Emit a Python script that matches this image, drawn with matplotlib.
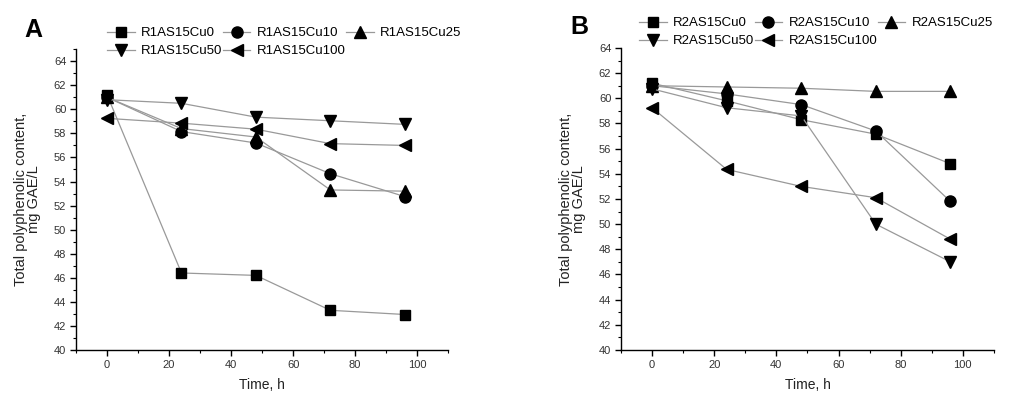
import matplotlib
matplotlib.use("Agg")
import matplotlib.pyplot as plt
from matplotlib.ticker import MultipleLocator

plt.rcParams['font.family'] = ['Liberation Sans', 'DejaVu Sans']

time_h = [0, 24, 48, 72, 96]

# Panel A (R1)
labels_a = ["R1AS15Cu0", "R1AS15Cu10", "R1AS15Cu25", "R1AS15Cu50", "R1AS15Cu100"]
r1_cu0 = [61.2, 46.4, 46.2, 43.3, 42.95]
r1_cu10 = [61.0, 58.15, 57.2, 54.65, 52.75]
r1_cu25 = [61.0, 58.4, 57.7, 53.3, 53.2]
r1_cu50 = [60.8, 60.5, 59.35, 59.05, 58.75]
r1_cu100 = [59.25, 58.85, 58.35, 57.15, 57.0]

# Panel B (R2)
labels_b = ["R2AS15Cu0", "R2AS15Cu10", "R2AS15Cu25", "R2AS15Cu50", "R2AS15Cu100"]
r2_cu0 = [61.2, 59.8, 58.3, 57.15, 54.8]
r2_cu10 = [61.0, 60.35, 59.5, 57.4, 51.8]
r2_cu25 = [61.0, 60.9, 60.8, 60.55, 60.55]
r2_cu50 = [60.75, 59.25, 58.6, 50.0, 47.0]
r2_cu100 = [59.25, 54.35, 53.0, 52.1, 48.8]

markers = ['s', 'o', '^', 'v', '<']
msizes = [7.5, 8, 9, 9, 9]

fig = plt.figure(figsize=(10.14, 3.99), dpi=100)
ax_a = fig.add_axes([0.075, 0.1228, 0.367, 0.754])
ax_b = fig.add_axes([0.6124, 0.1228, 0.3678, 0.757])


def draw(ax, series, labels, ylim):
    handles = []
    for vals, lab, m, ms in zip(series, labels, markers, msizes):
        h, = ax.plot(time_h, vals, color='#999999', lw=0.9, marker=m,
                     markersize=ms, markerfacecolor='black',
                     markeredgecolor='black', label=lab)
        handles.append(h)
    ax.set_xlim(-10, 110)
    ax.set_ylim(*ylim)
    ax.xaxis.set_major_locator(MultipleLocator(20))
    ax.xaxis.set_minor_locator(MultipleLocator(10))
    ax.yaxis.set_major_locator(MultipleLocator(2))
    ax.yaxis.set_minor_locator(MultipleLocator(1))
    for s in ('top', 'right'):
        ax.spines[s].set_visible(False)
    for s in ('left', 'bottom'):
        ax.spines[s].set_linewidth(1.0)
    ax.tick_params(which='major', direction='out', length=4, width=1,
                   labelsize=8, labelcolor='#333333', pad=3)
    ax.tick_params(which='minor', direction='out', length=2.5, width=0.8)
    ax.set_xlabel("Time, h", fontsize=10, color='#222222', labelpad=6)
    ax.set_ylabel("Total polyphenolic content,\nmg GAE/L", fontsize=10.5,
                  color='#222222', labelpad=9, linespacing=0.95)
    return handles


ha = draw(ax_a, [r1_cu0, r1_cu10, r1_cu25, r1_cu50, r1_cu100], labels_a, (40, 65))
hb = draw(ax_b, [r2_cu0, r2_cu10, r2_cu25, r2_cu50, r2_cu100], labels_b, (40, 64))

order = [0, 3, 1, 4, 2]
for handles, x0, y0 in ((ha, 107 / 1014, 1 - 27 / 399), (hb, 639 / 1014, 1 - 17 / 399)):
    hs = [handles[i] for i in order]
    fig.legend(hs, [h.get_label() for h in hs], ncol=3, loc='upper left',
               bbox_to_anchor=(x0, y0), frameon=False, fontsize=9.5,
               handlelength=2.1, handletextpad=0.5, columnspacing=0.0,
               borderpad=0, borderaxespad=0, labelspacing=0.45,
               markerscale=1.0)

fig.text(33 / 1014, 1 - 30 / 399, "A", fontsize=18, fontweight='bold',
         ha='center', va='center')
fig.text(579 / 1014, 1 - 27 / 399, "B", fontsize=18, fontweight='bold',
         ha='center', va='center')

fig.savefig("out.png", dpi=100)
